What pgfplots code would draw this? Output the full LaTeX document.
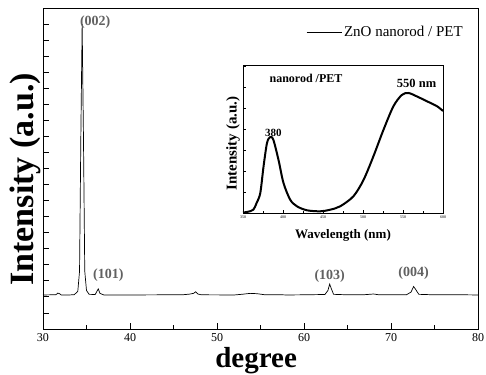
\documentclass[border=0pt]{standalone}
\usepackage{fontspec}
\setmainfont{Liberation Serif}
\usepackage{pgfplots}
\pgfplotsset{compat=1.18}
\definecolor{labgray}{gray}{0.38}
\begin{document}
\begin{tikzpicture}
\path[use as bounding box] (-43pt,-45pt) rectangle (443pt,329pt);
\begin{axis}[
  at={(0pt,0pt)}, anchor=south west,
  scale only axis, width=435pt, height=321pt,
  xmin=30, xmax=80, ymin=0, ymax=20,
  xtick={30,40,...,80}, minor x tick num=1,
  ytick={1,2,...,19}, yticklabels={},
  xtick pos=bottom, ytick pos=left, tick align=inside,
  major tick length=6pt, minor tick length=3.5pt,
  tick style={black, line width=0.8pt},
  axis line style={line width=0.9pt},
  /pgf/number format/assume math mode=true,
  ticklabel style={font=\fontsize{12}{12}\selectfont},
  xticklabel style={yshift=-1pt},
  xlabel={\textbf{degree}},
  ylabel={\textbf{Intensity (a.u.)}},
  xlabel style={font=\fontsize{29}{29}\selectfont, at={(rel axis cs:0.49,0)}, anchor=center, yshift=-32pt},
  ylabel style={font=\fontsize{34}{34}\selectfont, at={(rel axis cs:0,0.466)}, anchor=center, yshift=18pt},
  legend style={draw=none, fill=none, at={(rel axis cs:0.970,0.925)}, anchor=east, inner sep=0pt, font=\fontsize{15}{15}\selectfont},
  legend image code/.code={\draw[#1] (0pt,0pt) -- (35pt,0pt);},
  clip=false,
]
\addplot[black, line width=0.7pt] coordinates {
(30,2.12) (31.0,2.13) (31.5,2.14) (31.7,2.24) (31.9,2.2) (32.1,2.12) (33.0,2.12) (33.6,2.14) (34.0,2.35) (34.2,3.6) (34.35,12) (34.5,19.0) (34.65,12) (34.8,3.6) (35.0,2.4) (35.3,2.16) (36.0,2.15) (36.2,2.35) (36.35,2.5) (36.55,2.22) (37,2.12) (40,2.12) (44,2.13) (46,2.13) (46.8,2.17) (47.3,2.22) (47.55,2.32) (47.8,2.18) (48.2,2.13) (52,2.12) (53,2.17) (53.8,2.22) (54.6,2.2) (55.4,2.14) (57,2.14) (58,2.12) (60,2.13) (62.4,2.15) (62.75,2.4) (62.95,2.8) (63.15,2.5) (63.4,2.16) (65,2.13) (67,2.14) (68,2.18) (68.5,2.14) (71.8,2.14) (72.3,2.3) (72.6,2.65) (72.85,2.45) (73.2,2.16) (75,2.13) (77,2.14) (80,2.12)
};
\addlegendentry{ZnO nanorod / PET}
\node[labgray, font=\fontsize{14}{14}\selectfont\bfseries] at (axis cs:36.0,19.15) {(002)};
\node[labgray, font=\fontsize{14}{14}\selectfont\bfseries] at (axis cs:37.5,3.37) {(101)};
\node[labgray, font=\fontsize{14}{14}\selectfont\bfseries] at (axis cs:62.95,3.3) {(103)};
\node[labgray, font=\fontsize{14}{14}\selectfont\bfseries] at (axis cs:72.6,3.5) {(004)};
\end{axis}
\begin{axis}[
  at={(200pt,116pt)}, anchor=south west,
  scale only axis, width=200pt, height=148pt,
  xmin=350, xmax=600, ymin=0, ymax=148,
  xtick={350,400,...,600}, minor x tick num=1,
  ytick={21,42,...,147}, yticklabels={},
  xtick pos=bottom, ytick pos=left, tick align=inside,
  major tick length=3pt, minor tick length=1.8pt,
  tick style={black, line width=0.6pt},
  axis line style={line width=0.8pt},
  axis background/.style={fill=white},
  /pgf/number format/assume math mode=true,
  ticklabel style={font=\fontsize{4}{4}\selectfont},
  xticklabel style={yshift=1pt},
  xlabel={\textbf{Wavelength (nm)}},
  ylabel={\textbf{Intensity (a.u.)}},
  xlabel style={font=\fontsize{13}{13}\selectfont, at={(rel axis cs:0.5,0)}, anchor=center, yshift=-22pt},
  ylabel style={font=\fontsize{15}{15}\selectfont, at={(rel axis cs:0,0.47)}, anchor=center, yshift=10pt},
  clip=false,
]
\addplot[black, line width=2pt, smooth, tension=0.5] coordinates {
(350,0.5) (356,1.2) (362.9,3.3) (367,10) (371.6,20) (375.7,46.7) (380,70) (384,76) (388,73) (394.4,53) (400.6,30) (409,13.3) (417.4,6.7) (430,2.7) (446.6,1.7) (459,3.3) (471.5,6.7) (488,16.7) (500.6,33) (513,56.7) (525.5,83) (538,106.7) (548.5,118) (556.8,120) (567,116.7) (580,111.7) (592.6,106.7) (600,102)
};
\node[font=\fontsize{12}{12}\selectfont\bfseries] at (axis cs:428.75,135) {nanorod /PET};
\node[font=\fontsize{12.5}{12.5}\selectfont\bfseries] at (axis cs:567,130) {550 nm};
\node[font=\fontsize{11}{11}\selectfont\bfseries] at (axis cs:388,80) {380};
\end{axis}
\end{tikzpicture}
\end{document}
